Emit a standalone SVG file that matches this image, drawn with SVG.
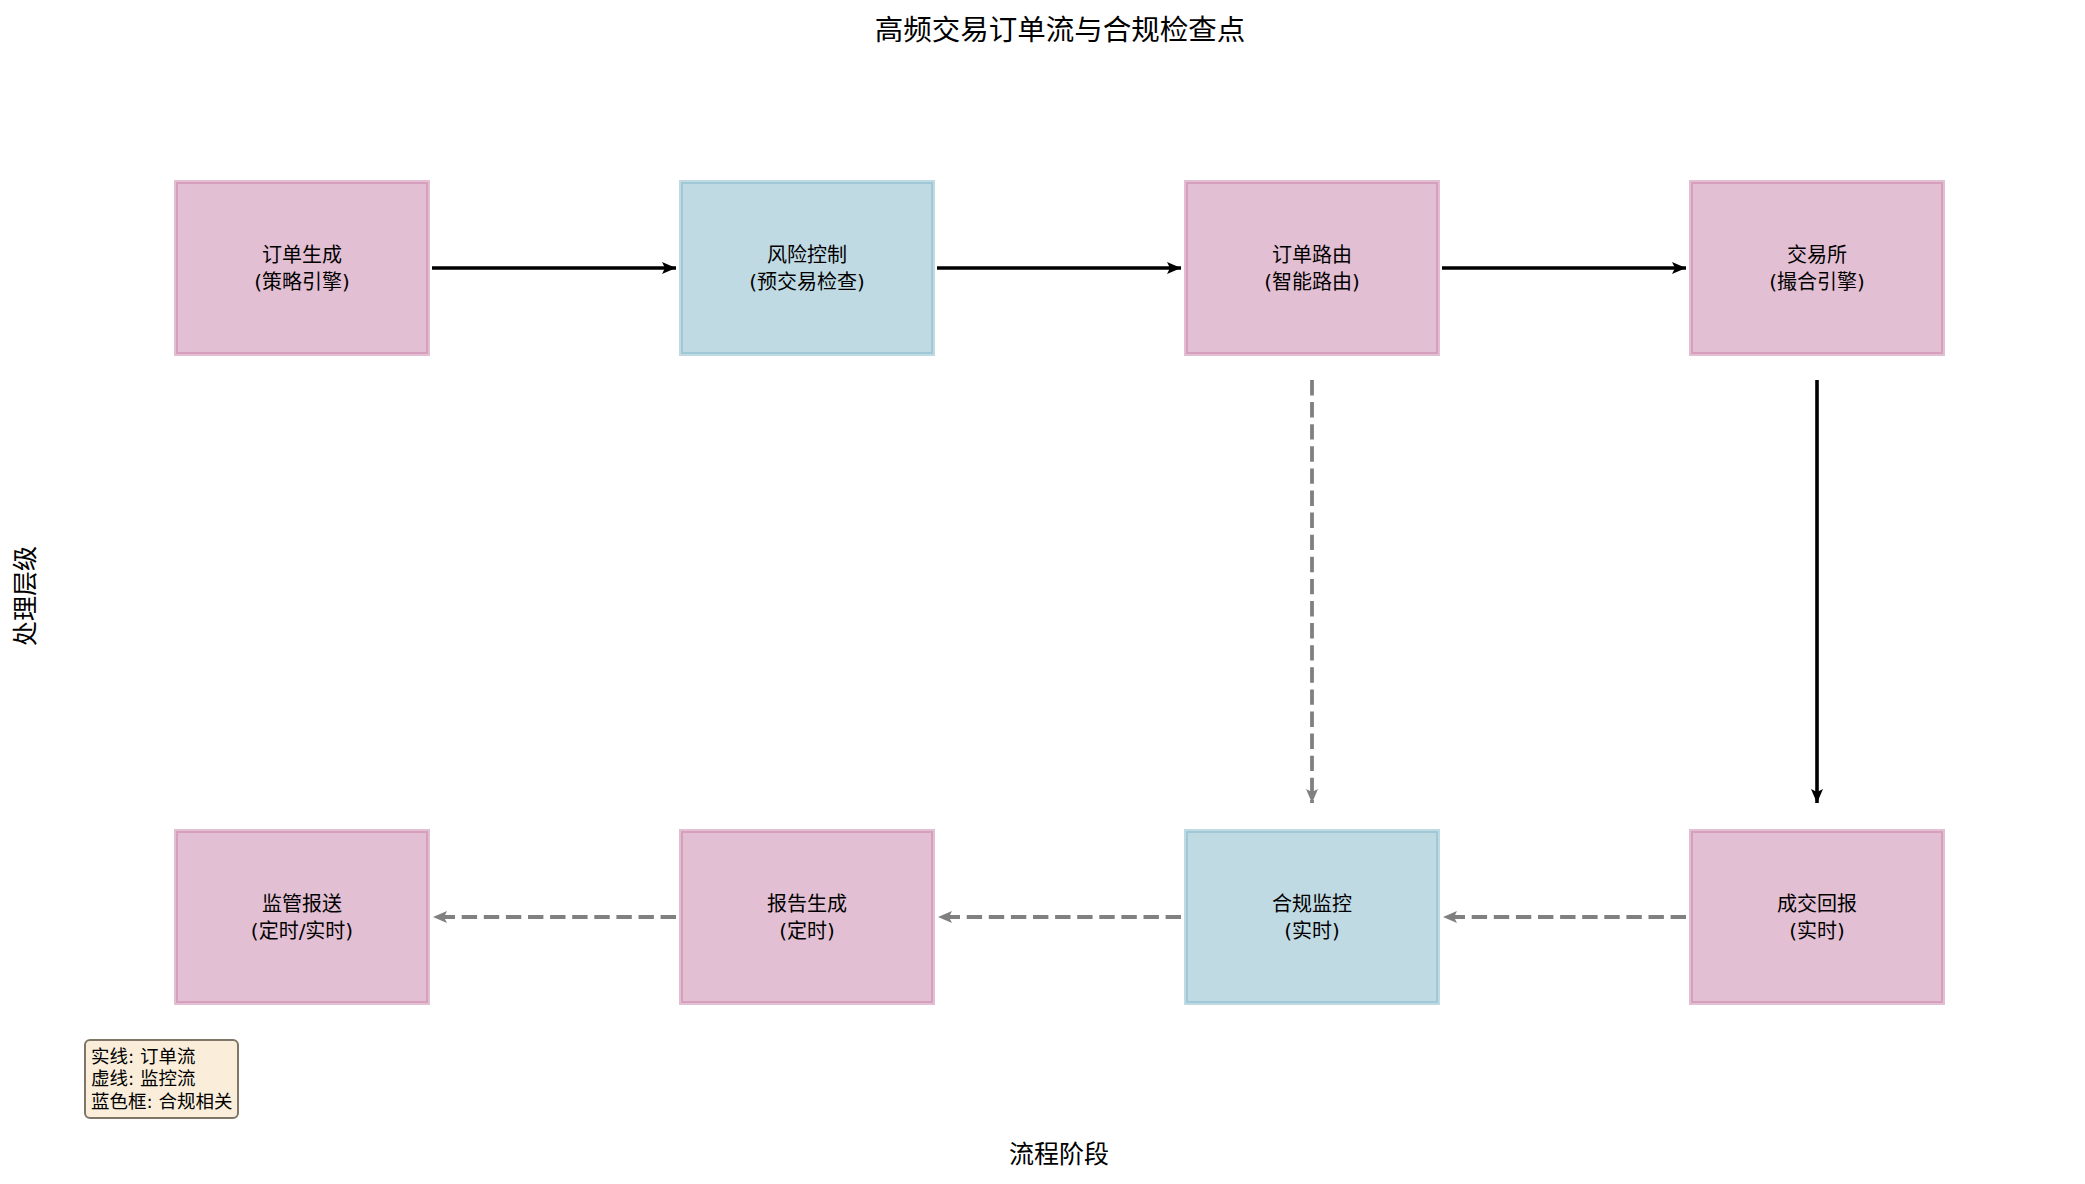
<svg xmlns="http://www.w3.org/2000/svg" width="2085" height="1184" viewBox="0 0 2085 1184">
<style>
text{font-family:"DejaVu Sans","Noto Sans CJK SC",sans-serif;fill:#000}
.lbl{font-size:20px;text-anchor:middle;dominant-baseline:central}
.pink{fill:#c77fa7;fill-opacity:0.5;stroke:#c77fa7;stroke-opacity:0.5;stroke-width:4}
.blue{fill:#81b5c9;fill-opacity:0.5;stroke:#81b5c9;stroke-opacity:0.5;stroke-width:4}
.solid{stroke:#000;stroke-width:3.6;fill:none;marker-end:url(#ah)}
.dash{stroke:#808080;stroke-width:3.8;fill:none;stroke-dasharray:15.4 6.7;marker-end:url(#ahg)}
.leg{font-size:18.5px;dominant-baseline:central}
</style>
<defs>
<marker id="ah" markerUnits="userSpaceOnUse" markerWidth="16" markerHeight="14" refX="14" refY="7" orient="auto">
<path d="M0,1 L14,7 L0,13 L3,7 Z" fill="#000"/>
</marker>
<marker id="ahg" markerUnits="userSpaceOnUse" markerWidth="16" markerHeight="14" refX="14" refY="7" orient="auto">
<path d="M0,1 L14,7 L0,13 L3,7 Z" fill="#808080"/>
</marker>
</defs>
<rect width="2085" height="1184" fill="#fff"/>
<text x="1060" y="30" font-size="28.5" text-anchor="middle" dominant-baseline="central">高频交易订单流与合规检查点</text>
<text x="1059" y="1154" font-size="25" text-anchor="middle" dominant-baseline="central">流程阶段</text>
<text x="25" y="596" font-size="25" text-anchor="middle" dominant-baseline="central" transform="rotate(-90 25 596)">处理层级</text>

<g id="connectors">
<line class="solid" x1="432" y1="268" x2="676" y2="268"/>
<line class="solid" x1="937" y1="268" x2="1181" y2="268"/>
<line class="solid" x1="1442" y1="268" x2="1686" y2="268"/>
<line class="dash" x1="1312" y1="380" x2="1312" y2="803"/>
<line class="solid" x1="1817" y1="380" x2="1817" y2="803"/>
<line class="dash" x1="1686" y1="917" x2="1443" y2="917"/>
<line class="dash" x1="1181" y1="917" x2="938" y2="917"/>
<line class="dash" x1="676" y1="917" x2="433" y2="917"/>
</g>

<g id="n1"><rect class="pink" x="176" y="182" width="252" height="172"/><text class="lbl" x="302" y="255">订单生成</text><text class="lbl" x="302" y="282">(策略引擎)</text></g>
<g id="n2"><rect class="blue" x="681" y="182" width="252" height="172"/><text class="lbl" x="807" y="255">风险控制</text><text class="lbl" x="807" y="282">(预交易检查)</text></g>
<g id="n3"><rect class="pink" x="1186" y="182" width="252" height="172"/><text class="lbl" x="1312" y="255">订单路由</text><text class="lbl" x="1312" y="282">(智能路由)</text></g>
<g id="n4"><rect class="pink" x="1691" y="182" width="252" height="172"/><text class="lbl" x="1817" y="255">交易所</text><text class="lbl" x="1817" y="282">(撮合引擎)</text></g>
<g id="n5"><rect class="pink" x="1691" y="831" width="252" height="172"/><text class="lbl" x="1817" y="904">成交回报</text><text class="lbl" x="1817" y="931">(实时)</text></g>
<g id="n6"><rect class="blue" x="1186" y="831" width="252" height="172"/><text class="lbl" x="1312" y="904">合规监控</text><text class="lbl" x="1312" y="931">(实时)</text></g>
<g id="n7"><rect class="pink" x="681" y="831" width="252" height="172"/><text class="lbl" x="807" y="904">报告生成</text><text class="lbl" x="807" y="931">(定时)</text></g>
<g id="n8"><rect class="pink" x="176" y="831" width="252" height="172"/><text class="lbl" x="302" y="904">监管报送</text><text class="lbl" x="302" y="931">(定时/实时)</text></g>

<g id="legend">
<rect x="85" y="1040" width="153" height="78" rx="5" fill="#faeedb" stroke="#7f7668" stroke-width="2"/>
<text class="leg" x="91" y="1056">实线: 订单流</text>
<text class="leg" x="91" y="1078.5">虚线: 监控流</text>
<text class="leg" x="91" y="1101">蓝色框: 合规相关</text>
</g>
</svg>
